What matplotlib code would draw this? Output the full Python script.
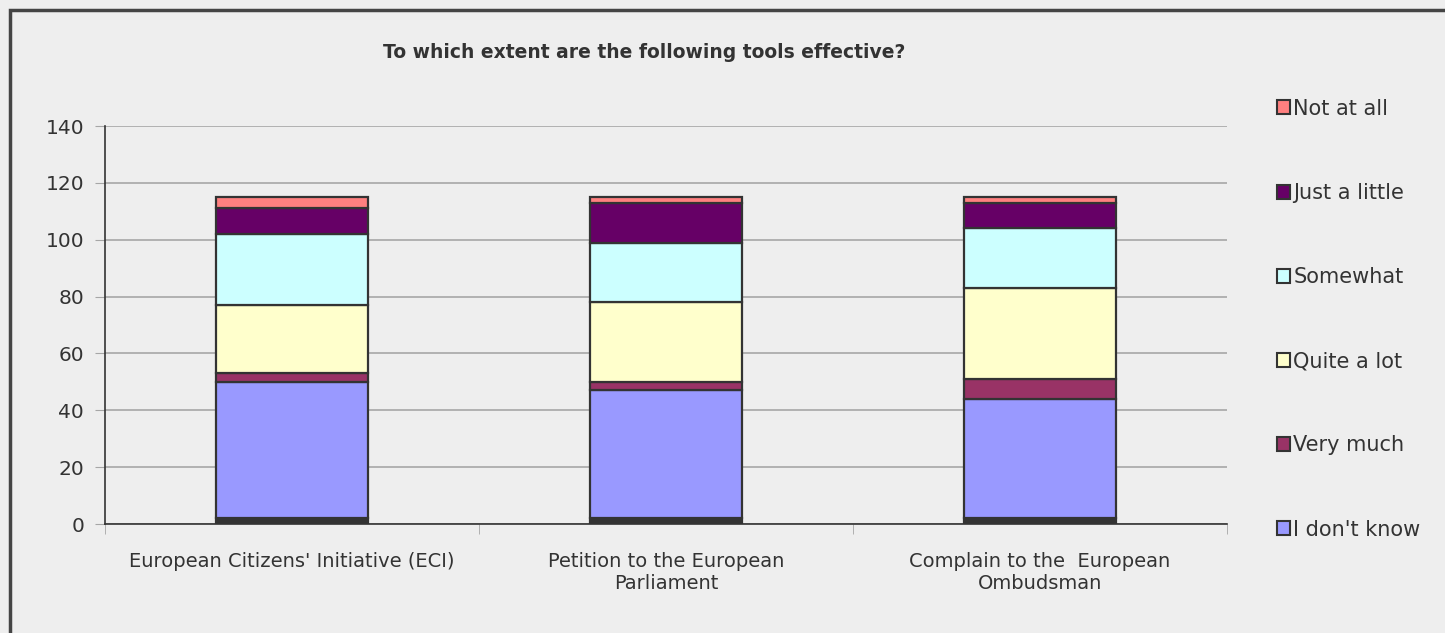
import matplotlib
matplotlib.use("Agg")
import matplotlib.pyplot as plt
from matplotlib.patches import Patch, Rectangle
import numpy as np

categories = ["European Citizens' Initiative (ECI)",
              "Petition to the European\nParliament",
              "Complain to the  European\nOmbudsman"]
no_answer = [2, 2, 2]
dont_know = [48, 45, 42]
very_much = [3, 3, 7]
quite_a_lot = [24, 28, 32]
somewhat = [25, 21, 21]
just_a_little = [9, 14, 9]
not_at_all = [4, 2, 2]

series = [
    ("_No answer", no_answer, "#333333"),
    ("I don't know", dont_know, "#9999ff"),
    ("Very much", very_much, "#993366"),
    ("Quite a lot", quite_a_lot, "#ffffcc"),
    ("Somewhat", somewhat, "#ccffff"),
    ("Just a little", just_a_little, "#660066"),
    ("Not at all", not_at_all, "#ff8080"),
]

plt.rcParams['font.family'] = ['DejaVu Sans']
txt = "#333333"
fig = plt.figure(figsize=(14.45, 6.33), dpi=100, facecolor="#eeeeee")
fig.patches.append(Rectangle((10/1445, -0.1), 1.2, 1 - 10/633 + 0.1,
                             transform=fig.transFigure, fill=False,
                             edgecolor="#444444", linewidth=2.5))
ax = fig.add_axes([105/1445, 109/633, 1122/1445, 398/633])
ax.set_facecolor("#eeeeee")

x = np.arange(len(categories))
bottom = np.zeros(len(categories))
handles = []
for name, vals, col in series:
    ax.bar(x, vals, bottom=bottom, width=0.405, color=col,
           edgecolor="#333333", linewidth=1.6, zorder=3)
    bottom += np.array(vals)
    if not name.startswith("_"):
        handles.append(Patch(facecolor=col, edgecolor="#333333", linewidth=1.5, label=name))

ax.set_xlim(-0.5, len(categories) - 0.5)
ax.set_ylim(0, 140)
ax.set_yticks(range(0, 141, 20))
ax.yaxis.grid(True, color="#a6a6a6", linewidth=1.2, zorder=0)
ax.set_axisbelow(True)
ax.tick_params(axis='y', direction='out', length=7, color="#a6a6a6",
               labelsize=14.5, labelcolor=txt, pad=8)
ax.set_xticks(x)
ax.set_xticklabels(categories, fontsize=14, color=txt)
ax.tick_params(axis='x', length=0, pad=20)
ax.set_xticks(np.arange(-0.5, len(categories) + 0.5, 1), minor=True)
ax.tick_params(axis='x', which='minor', direction='out', length=7, color="#a6a6a6")
for s in ["top", "right"]:
    ax.spines[s].set_visible(False)
ax.spines["left"].set_color("#333333")
ax.spines["bottom"].set_color("#333333")
ax.spines["left"].set_linewidth(1.2)
ax.spines["bottom"].set_linewidth(1.2)

fig.text(644/1445, 1 - 52/633, "To which extent are the following tools effective?",
         ha="center", va="center", fontsize=13.5, fontweight="bold", color=txt)

fig.legend(handles=handles[::-1], loc="upper left",
           bbox_to_anchor=(1258/1445, 1 - 80/633), frameon=False,
           fontsize=15, labelspacing=3.08, handlelength=0.65, handleheight=0.65,
           handletextpad=0.15, labelcolor=txt)

fig.savefig("out.png", dpi=100, facecolor=fig.get_facecolor())
